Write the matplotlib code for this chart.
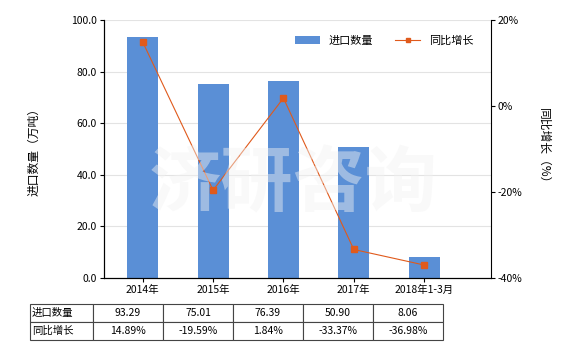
import numpy as np
import matplotlib
matplotlib.use('Agg')
import matplotlib.pyplot as plt

plt.rcParams['font.family'] = ['Noto Sans CJK SC', 'DejaVu Sans']

categories = ['2014年', '2015年', '2016年', '2017年', '2018年1-3月']
import_qty = [93.29, 75.01, 76.39, 50.90, 8.06]
yoy_growth = [14.89, -19.59, 1.84, -33.37, -36.98]
qty_labels = ['93.29', '75.01', '76.39', '50.90', '8.06']
growth_labels = ['14.89%', '-19.59%', '1.84%', '-33.37%', '-36.98%']

bar_color = '#5a8fd6'
line_color = '#e05a1c'

fig = plt.figure(figsize=(5.8, 3.5), dpi=100)
ax1 = fig.add_axes([104/580, 1-278/350, 387/580, 258/350])
x = np.arange(len(categories))

ax1.bar(x, import_qty, width=0.44, color=bar_color, label='进口数量', zorder=2)
ax1.set_ylim(0, 100)
ax1.set_xlim(-0.55, 4.95)
ax1.set_yticks(np.arange(0, 101, 20))
ax1.set_yticklabels([f'{v:.1f}' for v in np.arange(0, 101, 20)], fontsize=7.5)
ax1.set_xticks(x)
ax1.set_xticklabels(categories, fontsize=7.5)
ax1.grid(axis='y', color='#e3e3e3', linewidth=0.8, zorder=0)
ax1.set_axisbelow(True)
ax1.spines['top'].set_visible(False)
ax1.spines['right'].set_visible(False)
ax1.tick_params(length=3, width=0.8, pad=2)
ax1.set_ylabel('进口数量（万吨）', fontsize=8.5, labelpad=22)

ax2 = ax1.twinx()
ax2.plot(x, yoy_growth, color=line_color, linewidth=0.8, marker='s', markersize=4,
         label='同比增长', zorder=3)
ax2.set_ylim(-40, 20)
ax2.set_yticks([-40, -20, 0, 20])
ax2.set_yticklabels(['-40%', '-20%', '0%', '20%'], fontsize=7.5)
ax2.spines['top'].set_visible(False)
ax2.tick_params(length=3, width=0.8, pad=2)
ax2.set_ylabel('同比增长（%）', fontsize=8.5, rotation=270, labelpad=20)

# watermark
fig.text(0.505, 1-185/350, '济研咨询', fontsize=52, color='#f2f2f2', alpha=0.45,
         ha='center', va='center', fontweight='bold', zorder=5)

h1, l1 = ax1.get_legend_handles_labels()
h2, l2 = ax2.get_legend_handles_labels()
ax2.legend(h1 + h2, l1 + l2, loc='upper right', bbox_to_anchor=(0.98, 0.98), ncol=2,
           frameon=False, fontsize=8, handlelength=2.2, columnspacing=2.0,
           markerscale=0.7)

# data table
tax = fig.add_axes([30/580, 10/350, 413/580, 36/350])
tax.axis('off')
cell_text = [qty_labels, growth_labels]
row_names = ['进口数量', '同比增长']
widths = [63/413] + [70/413] * 5
table = tax.table(cellText=[[r] + c for r, c in zip(row_names, cell_text)],
                  colWidths=widths, bbox=[0, 0, 1, 1], cellLoc='center')
table.auto_set_font_size(False)
table.set_fontsize(7.5)
for (r, c), cell in table.get_celld().items():
    cell.set_edgecolor('#444444')
    cell.set_linewidth(0.8)
    if c == 0:
        cell.get_text().set_ha('left')
        cell.PAD = 0.03

fig.savefig('out.png', dpi=100)
